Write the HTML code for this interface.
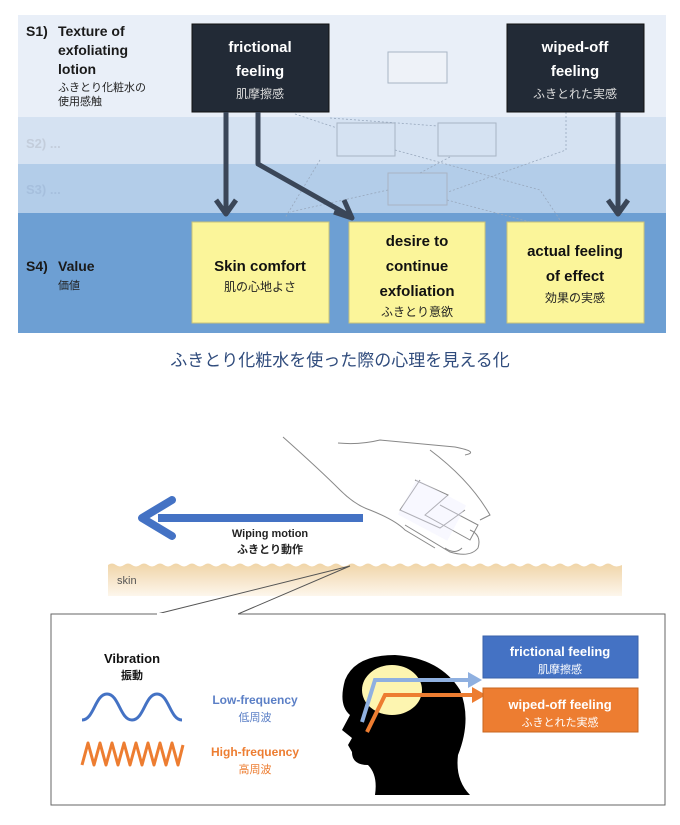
<!DOCTYPE html>
<html><head><meta charset="utf-8"><style>
body{margin:0;width:680px;height:820px;background:#fff;overflow:hidden;font-family:"Liberation Sans","Noto Sans CJK JP",sans-serif}
</style></head><body>
<svg width="680" height="820" viewBox="0 0 680 820" xmlns="http://www.w3.org/2000/svg" font-family="Liberation Sans, Noto Sans CJK JP, sans-serif">
<defs>
<linearGradient id="sk" x1="0" y1="0" x2="0" y2="1"><stop offset="0" stop-color="#f0d5a8"/><stop offset="1" stop-color="#fdf6ec"/></linearGradient>
</defs>
<rect x="18" y="15" width="648" height="102" fill="#e9eff8"/>
<rect x="18" y="117" width="648" height="47" fill="#d5e2f2"/>
<rect x="18" y="164" width="648" height="49" fill="#b3cde9"/>
<rect x="18" y="213" width="648" height="120" fill="#6d9fd3"/>
<g font-weight="bold" font-size="14" fill="#1a1a1a">
<text x="26" y="36">S1)</text><text x="58" y="36">Texture of</text>
<text x="58" y="55">exfoliating</text><text x="58" y="74">lotion</text>
<text x="26" y="271">S4)</text><text x="58" y="271">Value</text>
</g>
<text x="58" y="91" font-size="11" fill="#222">ふきとり化粧水の</text>
<text x="58" y="105" font-size="11" fill="#222">使用感触</text>
<text x="58" y="289" font-size="11" fill="#222">価値</text>
<text x="26" y="148" font-size="13" font-weight="bold" fill="#c3cddb">S2) ...</text>
<text x="26" y="194" font-size="13" font-weight="bold" fill="#a6bfdd">S3) ...</text>
<g fill="none" stroke="#a8b4c4" stroke-width="1">
<rect x="388" y="52" width="59" height="31" fill="#eef2f8"/>
<rect x="337" y="123" width="58" height="33"/>
<rect x="438" y="123" width="58" height="33"/>
<rect x="388" y="173" width="59" height="32"/>
</g>
<g fill="none" stroke="#98a8bd" stroke-width="0.8" stroke-dasharray="2,2">
<path d="M295 114 L337 128"/><path d="M330 118 L438 126"/>
<path d="M566 112 L566 150 L448 192"/><path d="M450 157 L420 173"/>
<path d="M395 150 L540 190 L560 220"/><path d="M388 190 L290 212"/>
<path d="M320 160 L285 218"/><path d="M447 200 L530 222"/>
</g>
<rect x="192" y="24" width="137" height="88" fill="#222a36" stroke="#111" />
<rect x="507" y="24" width="137" height="88" fill="#222a36" stroke="#111"/>
<g fill="#fff" text-anchor="middle" font-weight="bold" font-size="15">
<text x="260" y="52">frictional</text><text x="260" y="76">feeling</text>
<text x="575" y="52">wiped-off</text><text x="575" y="76">feeling</text>
</g>
<text x="260" y="98" fill="#ddd" font-size="12" text-anchor="middle">肌摩擦感</text>
<text x="575" y="98" fill="#ddd" font-size="12" text-anchor="middle">ふきとれた実感</text>
<g fill="#fbf59a" stroke="#c9c37a">
<rect x="192" y="222" width="137" height="101"/>
<rect x="349" y="222" width="136" height="101"/>
<rect x="507" y="222" width="137" height="101"/>
</g>
<g fill="#111" text-anchor="middle" font-weight="bold" font-size="15">
<text x="260" y="271">Skin comfort</text>
<text x="417" y="246">desire to</text><text x="417" y="271">continue</text><text x="417" y="296">exfoliation</text>
<text x="575" y="256">actual feeling</text><text x="575" y="281">of effect</text>
</g>
<g fill="#222" text-anchor="middle" font-size="12">
<text x="260" y="291">肌の心地よさ</text><text x="417" y="316">ふきとり意欲</text><text x="575" y="302">効果の実感</text>
</g>
<g stroke="#3a4658" stroke-width="5" fill="none" stroke-linejoin="round">
<path d="M226 112 L226 212"/><path d="M216 200 L226 214 L236 200"/>
<path d="M258 112 L258 164 L350 216"/><path d="M334 212 L352 218 L344 200"/>
<path d="M618 112 L618 212"/><path d="M608 200 L618 214 L628 200"/>
</g>
<text x="340" y="366" font-size="17" fill="#2f4b7c" text-anchor="middle">ふきとり化粧水を使った際の心理を見える化</text>
<path d="M108 565 Q112 562 116 565 T124 565 T132 565 T140 565 T148 565 T156 565 T164 565 T172 565 T180 565 T188 565 T196 565 T204 565 T212 565 T220 565 T228 565 T236 565 T244 565 T252 565 T260 565 T268 565 T276 565 T284 565 T292 565 T300 565 T308 565 T316 565 T324 565 T332 565 T340 565 T348 565 T356 565 T364 565 T372 565 T380 565 T388 565 T396 565 T404 565 T412 565 T420 565 T428 565 T436 565 T444 565 T452 565 T460 565 T468 565 T476 565 T484 565 T492 565 T500 565 T508 565 T516 565 T524 565 T532 565 T540 565 T548 565 T556 565 T564 565 T572 565 T580 565 T588 565 T596 565 T604 565 T612 565 T622 565 L622 596 L108 596 Z" fill="url(#sk)"/>
<text x="117" y="584" font-size="11" fill="#555">skin</text>
<rect x="158" y="514" width="205" height="8" fill="#4472c4"/>
<path d="M172 500 L142 518 L172 536" fill="none" stroke="#4472c4" stroke-width="8" stroke-linecap="round" stroke-linejoin="round"/>
<text x="270" y="537" font-size="11" font-weight="bold" fill="#222" text-anchor="middle">Wiping motion</text>
<text x="270" y="553" font-size="11" font-weight="bold" fill="#222" text-anchor="middle">ふきとり動作</text>
<g fill="none" stroke="#888" stroke-width="1">
<path d="M283 437 Q320 470 340 490 Q355 505 370 510 Q395 520 405 530 L435 548"/>
<path d="M338 443 Q360 445 380 440 Q400 442 455 447 Q480 452 465 455"/>
<path d="M430 450 Q470 480 490 515 L480 520"/>
<path d="M415 480 L448 495 L425 515 L470 540 L478 525 L440 505"/>
<path d="M420 480 L400 510 L440 528 L465 510"/>
<path d="M405 525 Q430 540 450 552 Q470 558 478 548 Q482 535 470 530"/>
<path d="M445 548 Q455 555 462 548"/>
</g>
<rect x="404" y="490" width="56" height="40" fill="#eef" opacity="0.4" transform="rotate(28 432 510)"/>
<path d="M350 566 L157 614 M350 566 L238 614" stroke="#555" stroke-width="1" fill="none"/>
<rect x="51" y="614" width="614" height="191" fill="#fff" stroke="#666" stroke-width="1"/>
<rect x="157" y="613" width="81" height="2" fill="#fff"/>
<text x="132" y="663" font-size="13" font-weight="bold" fill="#111" text-anchor="middle">Vibration</text>
<text x="132" y="679" font-size="11" font-weight="bold" fill="#111" text-anchor="middle">振動</text>
<path d="M82 720 C94 720 95 694 107 694 C119 694 120 720 132 720 C144 720 145 694 157 694 C169 694 170 720 182 720" fill="none" stroke="#4472c4" stroke-width="3"/>
<path d="M82 765 L88 743 L94 765 L100 743 L106 765 L112 743 L118 765 L124 743 L130 765 L136 743 L142 765 L148 743 L154 765 L160 743 L166 765 L172 743 L178 765 L183 745" fill="none" stroke="#ed7d31" stroke-width="3" stroke-linejoin="round"/>
<text x="255" y="704" font-size="12" font-weight="bold" fill="#5b7fc6" text-anchor="middle">Low-frequency</text>
<text x="255" y="721" font-size="11" fill="#5b7fc6" text-anchor="middle">低周波</text>
<text x="255" y="756" font-size="12" font-weight="bold" fill="#ed7d31" text-anchor="middle">High-frequency</text>
<text x="255" y="773" font-size="11" fill="#ed7d31" text-anchor="middle">高周波</text>
<path d="M345 680 Q355 655 395 655 Q440 658 460 690 Q472 720 458 755 Q455 780 470 795 L375 795 Q378 775 368 765 Q352 765 352 752 L348 745 L352 738 L342 730 L350 715 Q338 705 345 680 Z" fill="#000"/>
<ellipse cx="392" cy="690" rx="30" ry="25" fill="#fdf5b0"/>
<path d="M362 722 L375 680 L470 680" fill="none" stroke="#8fb0e0" stroke-width="4"/>
<path d="M468 672 L482 680 L468 688 Z" fill="#8fb0e0"/>
<path d="M367 732 L385 695 L474 695" fill="none" stroke="#ed7d31" stroke-width="4"/>
<path d="M472 687 L486 695 L472 703 Z" fill="#ed7d31"/>
<rect x="483" y="636" width="155" height="42" fill="#4472c4" stroke="#3a62aa"/>
<rect x="483" y="688" width="155" height="44" fill="#ed7d31" stroke="#c8661f"/>
<text x="560" y="656" font-size="13" font-weight="bold" fill="#fff" text-anchor="middle">frictional feeling</text>
<text x="560" y="673" font-size="11" fill="#fff" text-anchor="middle">肌摩擦感</text>
<text x="560" y="709" font-size="13" font-weight="bold" fill="#fff" text-anchor="middle">wiped-off feeling</text>
<text x="560" y="726" font-size="11" fill="#fff" text-anchor="middle">ふきとれた実感</text>
</svg>
</body></html>
